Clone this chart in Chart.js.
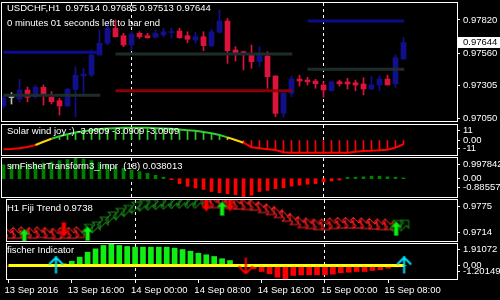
<!DOCTYPE html>
<html>
<head>
<meta charset="utf-8">
<script src="https://cdn.jsdelivr.net/npm/chart.js@4.4.1/dist/chart.umd.min.js"></script>
<style>
html,body{margin:0;padding:0;background:#000;overflow:hidden;}
#wrap{position:relative;width:500px;height:300px;background:#000;}
#wrap canvas{position:absolute;left:0;top:0;width:500px;height:300px;}
</style>
</head>
<body>
<div id="wrap">
<canvas id="cMain" width="500" height="300"></canvas>
<canvas id="cSolar" width="500" height="300"></canvas>
<canvas id="cFisher" width="500" height="300"></canvas>
<canvas id="cFiji" width="500" height="300"></canvas>
<canvas id="cFischer" width="500" height="300"></canvas>
</div>
<script>
// ---------------- DATA ----------------
const symbol = 'USDCHF,H1';
const timerText = '0 minutes 01 seconds left to bar end';
const xTickBars = [0, 8, 16, 24, 32, 40, 48];
const xTickLabels = ['13 Sep 2016','13 Sep 16:00','14 Sep 00:00','14 Sep 08:00','14 Sep 16:00','15 Sep 00:00','15 Sep 08:00'];
const daySeparators = [16, 40];

const open  = [0.97147,0.97213,0.97201,0.97272,0.97219,0.97293,0.97215,0.97188,0.97147,0.97277,0.97382,0.97389,0.97546,0.97638,0.97755,0.97697,0.97624,0.97716,0.97697,0.97685,0.97703,0.97722,0.97734,0.97697,0.97663,0.97689,0.97619,0.97724,0.97812,0.97585,0.97572,0.97546,0.97494,0.97538,0.97382,0.97089,0.97246,0.97358,0.97350,0.97342,0.97311,0.97266,0.97337,0.97335,0.97329,0.97319,0.97280,0.97311,0.97358,0.97321,0.97514];
const high  = [0.97225,0.97251,0.97356,0.97295,0.97311,0.97311,0.97259,0.97207,0.97285,0.97454,0.97444,0.97585,0.97742,0.97807,0.97820,0.97716,0.97728,0.97728,0.97716,0.97742,0.97755,0.97757,0.97755,0.97728,0.97724,0.97728,0.97747,0.97898,0.97833,0.97611,0.97575,0.97624,0.97611,0.97572,0.97382,0.97272,0.97382,0.97389,0.97371,0.97356,0.97337,0.97342,0.97350,0.97364,0.97350,0.97368,0.97376,0.97382,0.97389,0.97546,0.97685];
const low   = [0.97131,0.97162,0.97180,0.97180,0.97207,0.97154,0.97162,0.97076,0.97141,0.97063,0.97248,0.97376,0.97546,0.97624,0.97685,0.97611,0.97585,0.97677,0.97677,0.97677,0.97689,0.97679,0.97677,0.97642,0.97638,0.97580,0.97611,0.97716,0.97481,0.97499,0.97429,0.97442,0.97454,0.97285,0.97063,0.97058,0.97219,0.97303,0.97311,0.97285,0.97215,0.97266,0.97303,0.97280,0.97266,0.97233,0.97272,0.97266,0.97311,0.97293,0.97513];
const close = [0.97209,0.97213,0.97272,0.97215,0.97293,0.97238,0.97180,0.97147,0.97277,0.97387,0.97397,0.97546,0.97638,0.97755,0.97689,0.97624,0.97710,0.97689,0.97681,0.97716,0.97728,0.97726,0.97681,0.97669,0.97689,0.97619,0.97728,0.97812,0.97580,0.97564,0.97556,0.97494,0.97546,0.97376,0.97089,0.97246,0.97358,0.97342,0.97335,0.97321,0.97272,0.97335,0.97321,0.97319,0.97311,0.97280,0.97311,0.97358,0.97311,0.97525,0.97644];

const levelStart = [0, 0, 14, 14, 38, 38];
const levelEnd   = [11.7, 12.1, 36.1, 36.1, 50.1, 50.1];
const levelPrice = [0.97567, 0.97230, 0.97554, 0.97266, 0.97812, 0.97434];

const mainTickLabels = ['0.97820','0.97560','0.97305','0.97050'];

const solar = [-6.8,-6.6,-6.1,-5.1,-3.7,-1.3,0.9,2.7,4.2,5.5,6.4,7.2,8.0,8.5,8.7,9.0,9.0,9.0,9.0,8.7,8.5,8.2,7.7,7.2,6.7,5.9,4.9,3.6,1.9,0,-2.0,-5.3,-6.1,-6.8,-7.4,-9.0,-9.3,-9.3,-9.3,-9.3,-9.3,-9.3,-9.3,-9.3,-8.6,-8.0,-7.9,-7.6,-7.1,-5.6,-3.0909];
const solarHist = [null,null,null,null,null,null,null,2.7,4.2,5.5,6.4,7.2,8.0,8.5,8.7,9.0,9.0,9.0,9.0,8.7,8.5,8.2,7.7,7.2,6.7,5.9,4.9,3.6,1.9,0,-2.0,-5.3,-6.1,-6.8,-7.4,-9.0,-9.3,-9.3,-9.3,-9.3,-9.3,-9.3,-9.3,-9.3,-8.6,-8.0,-7.9,-7.6,-7.1,-5.6,-3.0909];
const solarState = ['r','r','r','r','y','y','g','g','g','g','g','g','g','g','g','g','g','g','g','g','g','g','g','g','g','g','g','g','y','y','r','r','r','r','r','r','r','r','r','r','r','r','r','r','r','r','r','r','r','r','r'];
const solarTickLabels = ['11','0.00','-11'];

const fisherVals = [0.67,0.67,0.67,0.70,0.70,0.75,0.80,0.87,0.92,0.99,0.95,0.87,0.78,0.70,0.58,0.50,0.42,0.34,0.26,0.16,0.07,-0.05,-0.24,-0.37,-0.45,-0.52,-0.62,-0.68,-0.73,-0.78,-0.88,-0.80,-0.62,-0.57,-0.49,-0.44,-0.36,-0.32,-0.27,-0.24,-0.16,-0.11,-0.07,0.06,0.07,0.09,0.12,0.12,0.09,0.07,0.038013];
const fisherTickLabels = ['0.997842','0.00','-0.885572'];

const fiji = [0.9725,0.9725,0.9726,0.9725,0.9726,0.9725,0.9724,0.9725,0.9725,0.9726,0.97319,0.97353,0.97427,0.97502,0.97557,0.97601,0.97650,0.97676,0.97690,0.97698,0.97705,0.97713,0.97720,0.97720,0.97720,0.97705,0.97705,0.97705,0.97690,0.97683,0.97676,0.97665,0.97631,0.97601,0.97557,0.97502,0.97452,0.97408,0.97393,0.97378,0.97378,0.97393,0.97400,0.97400,0.97400,0.97393,0.97385,0.97378,0.97378,0.97378,0.9738];
const fijiDir = ['d','d','d','d','d','d','d','d','d','d','u','u','u','u','u','u','u','u','u','u','u','u','u','u','u','d','d','d','d','d','d','d','d','d','d','d','d','d','d','d','d','d','d','d','d','d','d','d','d','u','u'];
const fijiUpBars = [2, 10, 27, 49];
const fijiUpVals = [0.97214, 0.97252, 0.97624, 0.97326];
const fijiDownBars = [7, 25, 28];
const fijiDownVals = [0.97308, 0.97690, 0.97690];
const fijiTickLabels = ['0.9775','0.9714'];

const fischer = [-0.10,0,0,0,0,0,0,0.15,0.38,0.74,1.18,1.48,1.78,1.91,1.78,1.69,1.63,1.63,1.63,1.63,1.63,1.54,1.42,1.27,1.09,0.95,0.80,0.60,0.44,0.05,-0.05,-0.29,-0.53,-0.74,-1.04,-1.20,-0.89,-0.83,-0.83,-0.83,-0.83,-0.77,-0.65,-0.60,-0.53,-0.53,-0.44,-0.38,-0.24,-0.13,0];
const fischerSignalStart = 0, fischerSignalEnd = 50, fischerSignalLevel = 0;
const fischerUpBars = [6, 50];
const fischerUpVals = [0, 0];
const fischerDownBars = [30];
const fischerDownVals = [0];
const fischerTickLabels = ['1.91072','0.00','-1.20149'];

// ---------------- STYLE ----------------
const FONT = '"Liberation Sans",Arial,sans-serif';
const FS = 9.5;
Chart.defaults.font.family = FONT;
Chart.defaults.font.size = FS;
Chart.defaults.color = '#ffffff';
const BULL = '#10108c', BEAR = '#dc143c', DOJI = '#c0c0c0';
const levelColors = ['#0c0c8a','#1e2c2c','#1e2c2c','#8b0000','#0c0c8a','#1e2c2c'];
const SOLAR_COL = {r:'#ff0000', y:'#ffd700', g:'#33cc33'};
const X_MIN = -0.1875, X_MAX = 56.6875;

function mk(w,h,fn){const c=document.createElement('canvas');c.width=w;c.height=h;fn(c.getContext('2d'));return c;}
function poly(g,p){g.beginPath();p.forEach((q,i)=>i?g.lineTo(q[0],q[1]):g.moveTo(q[0],q[1]));g.closePath();}
function chainArrow(color, ang){return mk(15,15,g=>{g.translate(7.5,7.5);g.rotate(ang);poly(g,[[-6.5,-2],[1,-2],[1,-5.5],[6.5,0],[1,5.5],[1,2],[-6.5,2]]);g.strokeStyle=color;g.lineWidth=1;g.stroke();});}
function bigArrow(fill, stroke, down){return mk(11,15,g=>{g.translate(5.5,7.5);if(down)g.scale(1,-1);poly(g,[[0,-7],[5,-1.5],[2,-1.5],[2,7],[-2,7],[-2,-1.5],[-5,-1.5]]);g.fillStyle=fill;g.fill();g.strokeStyle=stroke;g.lineWidth=1;g.stroke();});}
function lineArrow(color, down){return mk(17,18,g=>{g.translate(8.5,9);if(down)g.scale(1,-1);g.strokeStyle=color;g.lineWidth=2;g.beginPath();g.moveTo(-7,-1);g.lineTo(0,-8);g.lineTo(7,-1);g.moveTo(0,-8);g.lineTo(0,8);g.stroke();});}
const upChainImg = chainArrow('#1a8a1a', -Math.PI/4);
const downChainImg = chainArrow('#ff2020', Math.PI/4);
const bigUpImg = bigArrow('#11ee11', '#008800', false);
const bigDownImg = bigArrow('#ff0000', '#990000', true);
const cyanUpImg = lineArrow('#00e5ff', false);
const redDownImg = lineArrow('#ff0000', true);

function xScale(show){
  return {
    type:'linear', min:X_MIN, max:X_MAX, display:show, offset:false,
    afterBuildTicks: s => { s.ticks = xTickBars.map(v=>({value:v})); },
    afterFit: s => { s.height = show ? 21 : 0; s.paddingLeft = 0; s.paddingRight = 0; },
    grid:{offset:false, drawOnChartArea:false, drawTicks:true, tickLength:4, color:'#ffffff', lineWidth:1},
    border:{display:false},
    ticks:{align:'start', labelOffset:-4, color:'#ffffff', padding:2, maxRotation:0, minRotation:0, autoSkip:false,
      callback:(v,i)=>xTickLabels[i], font:{size:FS, family:FONT}}
  };
}
function yScale(min, max, labels, shifts, paneH){
  const per = (max-min)/paneH;
  return {
    type:'linear', position:'right', min, max,
    afterBuildTicks: s => { s.ticks = labels.map((l,i)=>({value: parseFloat(l) - shifts[i]*per})); },
    afterFit: s => { s.width = 43; s.paddingTop = 0; s.paddingBottom = 0; },
    grid:{drawOnChartArea:false, drawTicks:true, tickLength:3, color:'#ffffff', lineWidth:1},
    border:{display:false},
    ticks:{color:'#ffffff', padding:3, autoSkip:false, callback:(v,i)=>labels[i], font:{size:FS, family:FONT}}
  };
}
const framePlugin = {
  id:'frame',
  beforeDatasetsDraw(chart){
    const {ctx, chartArea:a, scales:{x}} = chart;
    ctx.save(); ctx.strokeStyle='#ffffff'; ctx.lineWidth=1; ctx.setLineDash([3,3]);
    daySeparators.forEach(b=>{
      const px = Math.round(x.getPixelForValue(b)-0.5)+0.5;
      ctx.beginPath(); ctx.moveTo(px, a.top); ctx.lineTo(px, a.bottom); ctx.stroke();
    });
    ctx.restore();
  },
  afterDraw(chart){
    const {ctx, chartArea:a} = chart;
    ctx.save(); ctx.strokeStyle='#ffffff'; ctx.lineWidth=1;
    ctx.strokeRect(a.left-0.5, a.top-0.5, a.right-a.left+1, a.bottom-a.top+1);
    ctx.restore();
  }
};
function textPlugin(lines){
  return {id:'paneText', afterDatasetsDraw(chart){
    const {ctx, chartArea:a} = chart;
    ctx.save(); ctx.font=FS+'px '+FONT; ctx.fillStyle='#ffffff'; ctx.textBaseline='middle'; ctx.textAlign='left';
    lines.forEach(l=>ctx.fillText(l.t, 7, a.top+l.dy));
    ctx.restore();
  }};
}
function makeChart(id, top, bottom, yOpts, datasets, plugins, showX){
  return new Chart(document.getElementById(id), {
    type:'bar',
    data:{datasets},
    options:{
      responsive:false, animation:false, devicePixelRatio:1, events:[],
      layout:{padding:{left:2, right:0, top:top, bottom: showX ? 300-bottom-21 : 300-bottom}},
      plugins:{legend:{display:false}, tooltip:{enabled:false}},
      scales:{x:xScale(showX), y:yOpts}
    },
    plugins:[framePlugin, ...plugins]
  });
}
function pts(bars, vals){ return bars.map((b,i)=>({x:b, y:vals[i]})); }
function imgSet(data, img, order){ return {type:'line', data, showLine:false, pointStyle:img, pointRadius:6, order}; }

// ---------------- MAIN PANE ----------------
const N = close.length;
const candleColor = close.map((c,i)=> c>open[i] ? BULL : (c<open[i] ? BEAR : DOJI));
const mainMax = 0.979531, mainMin = 0.970292;
const last = N-1;
const mainDatasets = [
  ...levelPrice.map((p,k)=>({type:'line', data:[{x:levelStart[k],y:p},{x:levelEnd[k],y:p}], borderColor:levelColors[k], borderWidth:3, pointRadius:0, order:0})),
  {type:'bar', data:close.map((c,i)=>({x:i, y:[low[i], high[i]]})), backgroundColor:candleColor, barThickness:1, grouped:false, order:2},
  {type:'bar', data:close.map((c,i)=>({x:i, y:[open[i], c]})), backgroundColor:candleColor, barThickness:5, grouped:false, minBarLength:1, order:1}
];
const pricePlugin = {id:'curPrice', afterDraw(chart){
  const {ctx} = chart; const y = Math.round(chart.scales.y.getPixelForValue(close[last]));
  ctx.save(); ctx.fillStyle='#ffffff'; ctx.fillRect(458, y-5, 42, 11);
  ctx.fillStyle='#000000'; ctx.font=FS+'px '+FONT; ctx.textBaseline='middle'; ctx.textAlign='left';
  ctx.fillText(close[last].toFixed(5), 463, y+0.5); ctx.restore();
}};
makeChart('cMain', 3, 121, yScale(mainMin, mainMax, mainTickLabels, [0,0,0,0], 118), mainDatasets,
  [textPlugin([
    {t:`${symbol}  ${open[last].toFixed(5)} ${high[last].toFixed(5)} ${low[last].toFixed(5)} ${close[last].toFixed(5)}`, dy:5},
    {t:timerText, dy:20}
  ]), pricePlugin], false);

// ---------------- SOLAR WIND ----------------
const sv = solar[last].toFixed(4);
makeChart('cSolar', 125, 155, yScale(-11, 11, solarTickLabels, [5,0,-6.7], 30), [
  {type:'bar', data:solarHist.map((v,i)=>({x:i, y:v})), backgroundColor:solarHist.map((v,i)=>SOLAR_COL[solarState[i]]), barThickness:1, grouped:false, order:2},
  {type:'line', data:solar.map((v,i)=>({x:i, y:v})), borderColor:'#33cc33', borderWidth:2, pointRadius:0,
    segment:{borderColor:c=>SOLAR_COL[solarState[c.p0DataIndex]]}, order:1}
], [textPlugin([{t:`Solar wind joy :) ${sv} ${sv} ${sv}`, dy:6}])], false);

// ---------------- smFisher ----------------
makeChart('cFisher', 158, 197, yScale(-0.885572, 0.997842, fisherTickLabels, [6.3,-0.6,-9.3], 39), [
  {type:'bar', data:fisherVals.map((v,i)=>({x:i, y:v})), backgroundColor:fisherVals.map(v=>v>=0?'#008000':'#ff0000'), barThickness:3, grouped:false}
], [textPlugin([{t:`smFisherTransform3_impr  (18) ${fisherVals[last].toFixed(6)}`, dy:8}])], false);

// ---------------- FIJI TREND ----------------
const upChain = fiji.map((v,i)=>fijiDir[i]==='u'?{x:i,y:v}:null).filter(Boolean);
const downChain = fiji.map((v,i)=>fijiDir[i]==='d'?{x:i,y:v}:null).filter(Boolean);
makeChart('cFiji', 200, 241, yScale(0.9714, 0.9775, fijiTickLabels, [6.7,-8.3], 41), [
  imgSet(downChain, downChainImg, 4),
  imgSet(upChain, upChainImg, 3),
  imgSet(pts(fijiDownBars, fijiDownVals), bigDownImg, 2),
  imgSet(pts(fijiUpBars, fijiUpVals), bigUpImg, 1)
], [textPlugin([{t:`H1 Fiji Trend ${fiji[last].toFixed(4)}`, dy:8.5}])], false);

// ---------------- FISCHER ----------------
makeChart('cFischer', 244, 279, yScale(-1.20149, 1.91072, fischerTickLabels, [5.3,0,-7.3], 35), [
  {type:'bar', data:fischer.map((v,i)=>({x:i, y:v})), backgroundColor:fischer.map(v=>v>=0?'#11ee11':'#ff0000'), barThickness:5, grouped:false, order:3},
  {type:'line', data:[{x:fischerSignalStart,y:fischerSignalLevel},{x:fischerSignalEnd,y:fischerSignalLevel}], borderColor:'#ffff00', borderWidth:3, pointRadius:0, order:2},
  imgSet(pts(fischerUpBars, fischerUpVals), cyanUpImg, 1),
  imgSet(pts(fischerDownBars, fischerDownVals), redDownImg, 1)
], [textPlugin([{t:'fischer Indicator', dy:6.5}])], true);
</script>
</body>
</html>
